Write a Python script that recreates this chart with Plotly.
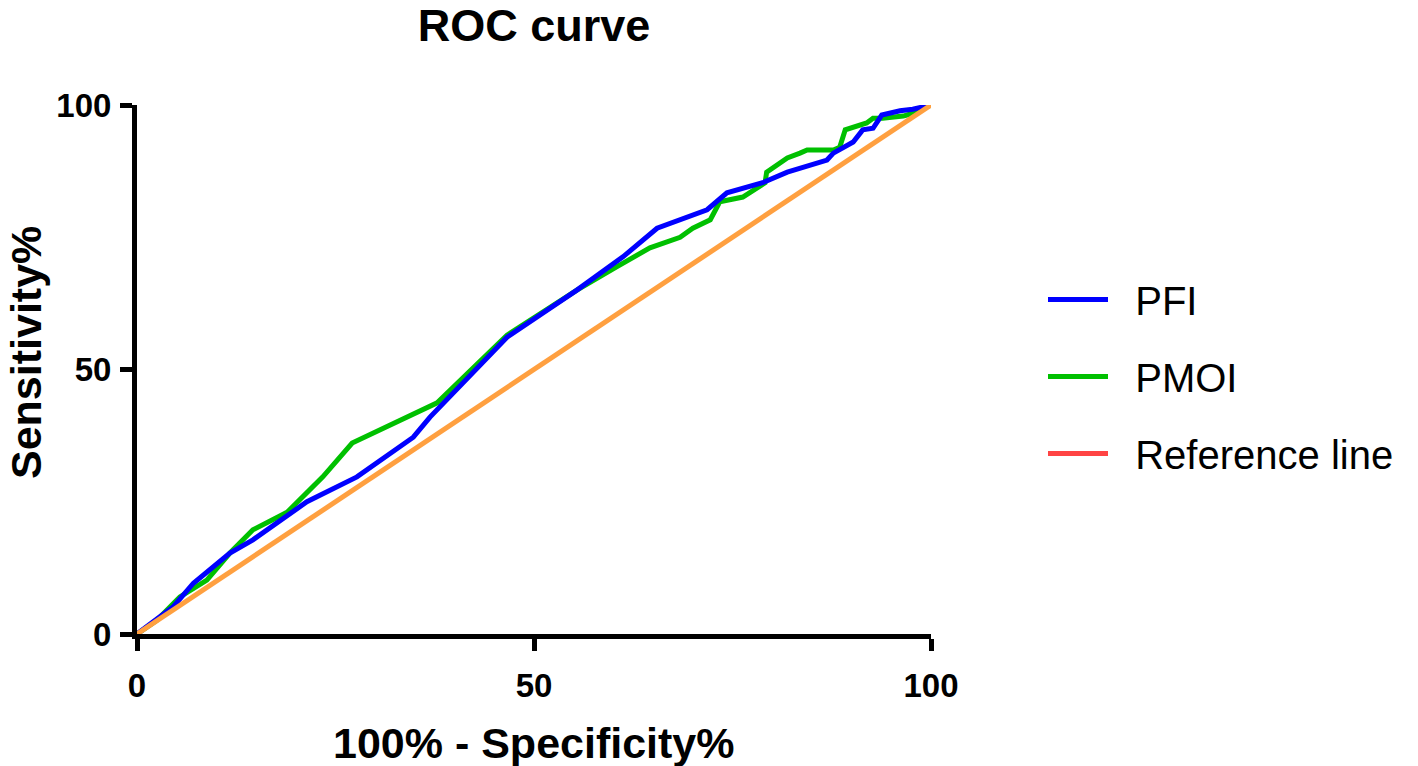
import plotly.graph_objects as go

# ---- data ----
pfi_x = [0, 2.5, 4.6, 7.1, 11.7, 14.6, 21.4, 27.7, 34.8, 36.9, 46.6, 55.4, 61.2, 65.5,
         71.8, 74.3, 78.8, 81.9, 86.9, 87.7, 90.2, 91.4, 92.7, 93.8, 96.1, 97.7, 98.6, 100]
pfi_y = [0, 2.9, 5.2, 9.6, 15.3, 17.8, 25.0, 29.7, 37.2, 41.0, 56.1, 65.0, 71.3, 76.7,
         80.2, 83.4, 85.3, 87.3, 89.6, 90.9, 93.0, 95.3, 95.6, 98.1, 98.9, 99.2, 99.6, 100]

pmoi_x = [0, 2.5, 5.4, 8.8, 11.7, 14.6, 18.9, 23.4, 27.1, 33.5, 37.8, 46.6, 55.4, 60.4,
          64.6, 68.4, 70.0, 72.2, 73.4, 76.3, 79.1, 79.3, 81.9, 83.5, 84.4, 87.7, 88.5,
          89.2, 91.9, 92.7, 93.9, 96.5, 97.2, 100]
pmoi_y = [0, 2.6, 7.0, 10.2, 15.3, 19.7, 23.0, 29.7, 36.1, 40.5, 43.7, 56.5, 65.0, 69.4,
          73.0, 75.0, 76.7, 78.3, 81.7, 82.6, 85.3, 87.3, 90.0, 90.9, 91.5, 91.5, 92.0,
          95.3, 96.6, 97.5, 97.5, 97.9, 98.2, 100]

ref_x = [0, 100]
ref_y = [0, 100]

tick_vals = [0, 50, 100]
tick_text = ["0", "50", "100"]

FONT = "Liberation Sans, Arial, sans-serif"
BLUE = "#0000FF"
GREEN = "#00C000"
ORANGE = "#FFA040"
RED = "#FF4444"
LW = 5
GAP = "\u00a0\u00a0"  # spacing between legend line and its label

# plot area wanted at x 137-931, y 105-634 (page body margin removed below)
L, R, T, B = 137, 931, 105, 634
W, H = 1418, 766
PW, PH = R - L, B - T


def px_x(sx):
    return (sx - L) / PW


def px_y(sy):
    return (B - sy) / PH


fig = go.Figure()
fig.add_trace(go.Scatter(x=pmoi_x, y=pmoi_y, mode="lines", name=GAP + "PMOI",
                         line=dict(color=GREEN, width=LW), legendrank=2,
                         legendgroup="b"))
fig.add_trace(go.Scatter(x=pfi_x, y=pfi_y, mode="lines", name=GAP + "PFI",
                         line=dict(color=BLUE, width=LW), legendrank=1,
                         legendgroup="a"))
fig.add_trace(go.Scatter(x=ref_x, y=ref_y, mode="lines", name="Reference line",
                         line=dict(color=ORANGE, width=LW), showlegend=False))
# legend entry for the reference line (shown in red in the reference legend)
fig.add_trace(go.Scatter(x=[None], y=[None], mode="lines",
                         name=GAP + "Reference line",
                         line=dict(color=RED, width=LW), legendrank=3,
                         legendgroup="c"))

axis_common = dict(
    range=[0, 100], tickvals=tick_vals, ticktext=tick_text,
    showline=True, linecolor="black", linewidth=5,
    ticks="outside", ticklen=12, tickwidth=5, tickcolor="black",
    showgrid=False, zeroline=False,
    tickfont=dict(family=FONT, size=33, color="black", weight="bold"),
    fixedrange=True,
)

fig.update_layout(
    width=W, height=H,
    paper_bgcolor="white", plot_bgcolor="white",
    margin=dict(l=L, r=W - R, t=T, b=H - B),
    title=dict(text="<b>ROC curve</b>", x=534 / W, xanchor="center",
               y=1 - 25 / H, yanchor="middle", yref="container",
               font=dict(family=FONT, size=45, color="black")),
    xaxis=dict(**axis_common, ticklabelstandoff=6),
    yaxis=dict(**axis_common, ticklabelstandoff=2),
    legend=dict(x=px_x(1043), xanchor="left", y=px_y(267), yanchor="top",
                font=dict(family=FONT, size=40, color="black"),
                itemwidth=60,
                tracegroupgap=22, bgcolor="rgba(0,0,0,0)", traceorder="grouped"),
    showlegend=True,
    annotations=[
        dict(text="<b>100% - Specificity%</b>", xref="paper", yref="paper",
             x=0.5, y=px_y(743), xanchor="center", yanchor="middle",
             showarrow=False, font=dict(family=FONT, size=43, color="black")),
        dict(text="<b>Sensitivity%</b>", xref="paper", yref="paper",
             x=px_x(26), y=px_y(353), xanchor="center",
             yanchor="middle", textangle=-90,
             showarrow=False, font=dict(family=FONT, size=43, color="black")),
    ],
)

fig.write_html("out.html",
               config={"displayModeBar": False},
               post_script="document.body.style.margin='0';")
